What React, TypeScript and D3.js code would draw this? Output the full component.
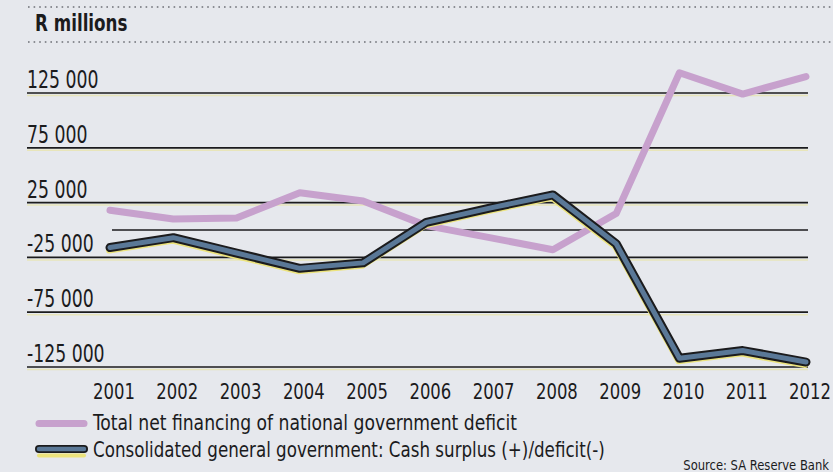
import React from 'react';
import * as d3 from 'd3';

const years = ['2001', '2002', '2003', '2004', '2005', '2006', '2007', '2008', '2009', '2010', '2011', '2012'];
const totalNetFinancing = [18000, 10000, 11000, 34000, 26500, 4000, -7000, -18000, 15000, 143500, 124000, 140000];
const consolidatedBalance = [-16000, -7000, -21000, -35000, -30000, 7000, 20000, 32000, -12500, -117000, -110000, -120500];
const yTicks = [125000, 75000, 25000, -25000, -75000, -125000];
const zeroLine = [0];
const seriesNames = [
  'Total net financing of national government deficit',
  'Consolidated general government: Cash surplus (+)/deficit(-)',
];
const titleText = 'R millions';
const sourceText = 'Source: SA Reserve Bank';

const FONT = "'DejaVu Sans Condensed', 'Liberation Sans Narrow', sans-serif";
const INK = '#1b1b1d';
const PURPLE = '#c7a1cd';
const STEEL = '#5a7897';
const YELLOW = '#ece37c';
const PAPER = '#e6e8ed';

const locale = d3.formatLocale({ decimal: '.', thousands: ' ', grouping: [3], currency: ['', ''], minus: '-' });
const fmt = locale.format(',');

type CTextProps = {
  x: number;
  y: number;
  sx: number;
  size: number;
  anchor?: 'start' | 'middle' | 'end';
  bold?: boolean;
  children: React.ReactNode;
};

function CText({ x, y, sx, size, anchor = 'start', bold = false, children }: CTextProps) {
  return (
    <text
      transform={`translate(${x},${y}) scale(${sx},1)`}
      fontSize={size}
      fontWeight={bold ? 'bold' : 'normal'}
      textAnchor={anchor}
      fill={INK}
    >
      {children}
    </text>
  );
}

export default function App() {
  const W = 833;
  const H = 472;
  const x = d3.scalePoint<string>().domain(years).range([110, 806]);
  const y = d3.scaleLinear().domain([-125000, 125000]).range([367, 93]);
  const line = d3
    .line<number>()
    .x((_, i) => x(years[i]) as number)
    .y((d) => y(d));

  const gridX0 = 27;
  const gridX1 = 808;
  const darkPath = line(consolidatedBalance) || '';
  const purplePath = line(totalNetFinancing) || '';

  return (
    <svg
      width={W}
      height={H}
      viewBox={`0 0 ${W} ${H}`}
      style={{ position: 'absolute', left: 0, top: 0, display: 'block' }}
      fontFamily={FONT}
    >
      <rect x={0} y={0} width={W} height={H} fill={PAPER} />

      {/* header dotted rules */}
      <line x1={28} x2={W} y1={7} y2={7} stroke="#6d6f75" strokeWidth={1.6} strokeDasharray="1.6 4" />
      <line x1={28} x2={W} y1={42} y2={42} stroke="#6d6f75" strokeWidth={1.6} strokeDasharray="1.6 4" />
      <CText x={35} y={31} sx={0.81} size={23} bold>
        {titleText}
      </CText>

      {/* grid lines and y labels */}
      {yTicks.map((t) => (
        <g key={t}>
          <line x1={gridX0} x2={gridX1} y1={y(t) + 2.5} y2={y(t) + 2.5} stroke={YELLOW} strokeOpacity={0.45} strokeWidth={1.5} />
          <line x1={gridX0} x2={gridX1} y1={y(t)} y2={y(t)} stroke={INK} strokeWidth={1.7} />
          <CText x={27} y={y(t) - 5} sx={0.8} size={24}>
            {fmt(t)}
          </CText>
        </g>
      ))}
      {zeroLine.map((t) => (
        <line key={t} x1={112} x2={gridX1} y1={y(t)} y2={y(t)} stroke={INK} strokeWidth={1.7} />
      ))}

      {/* purple series */}
      <path d={purplePath} fill="none" stroke={PURPLE} strokeWidth={7} strokeLinejoin="round" strokeLinecap="round" />

      {/* dark series with misregistered yellow */}
      <path
        d={darkPath}
        transform="translate(-1,3)"
        fill="none"
        stroke={YELLOW}
        strokeWidth={6}
        strokeLinejoin="round"
        strokeLinecap="round"
      />
      <path d={darkPath} fill="none" stroke={INK} strokeWidth={9} strokeLinejoin="round" strokeLinecap="round" />
      <path d={darkPath} fill="none" stroke={STEEL} strokeWidth={5} strokeLinejoin="round" strokeLinecap="round" />

      {/* x labels */}
      {years.map((yr) => (
        <CText key={yr} x={(x(yr) as number) + 4} y={399} sx={0.87} size={21} anchor="middle">
          {yr}
        </CText>
      ))}

      {/* legend */}
      <line x1={39} x2={84} y1={423.5} y2={423.5} stroke={PURPLE} strokeWidth={7} strokeLinecap="round" />
      <CText x={93} y={430} sx={0.91} size={21}>
        {seriesNames[0]}
      </CText>
      <line x1={39} x2={84} y1={455.5} y2={455.5} stroke={YELLOW} strokeWidth={4} strokeLinecap="round" />
      <line x1={39} x2={84} y1={449} y2={449} stroke={INK} strokeWidth={8} strokeLinecap="round" />
      <line x1={39} x2={84} y1={449} y2={449} stroke={STEEL} strokeWidth={4.5} strokeLinecap="round" />
      <CText x={93} y={457} sx={0.885} size={21}>
        {seriesNames[1]}
      </CText>

      <CText x={829} y={470} sx={0.92} size={14} anchor="end">
        {sourceText}
      </CText>
    </svg>
  );
}
